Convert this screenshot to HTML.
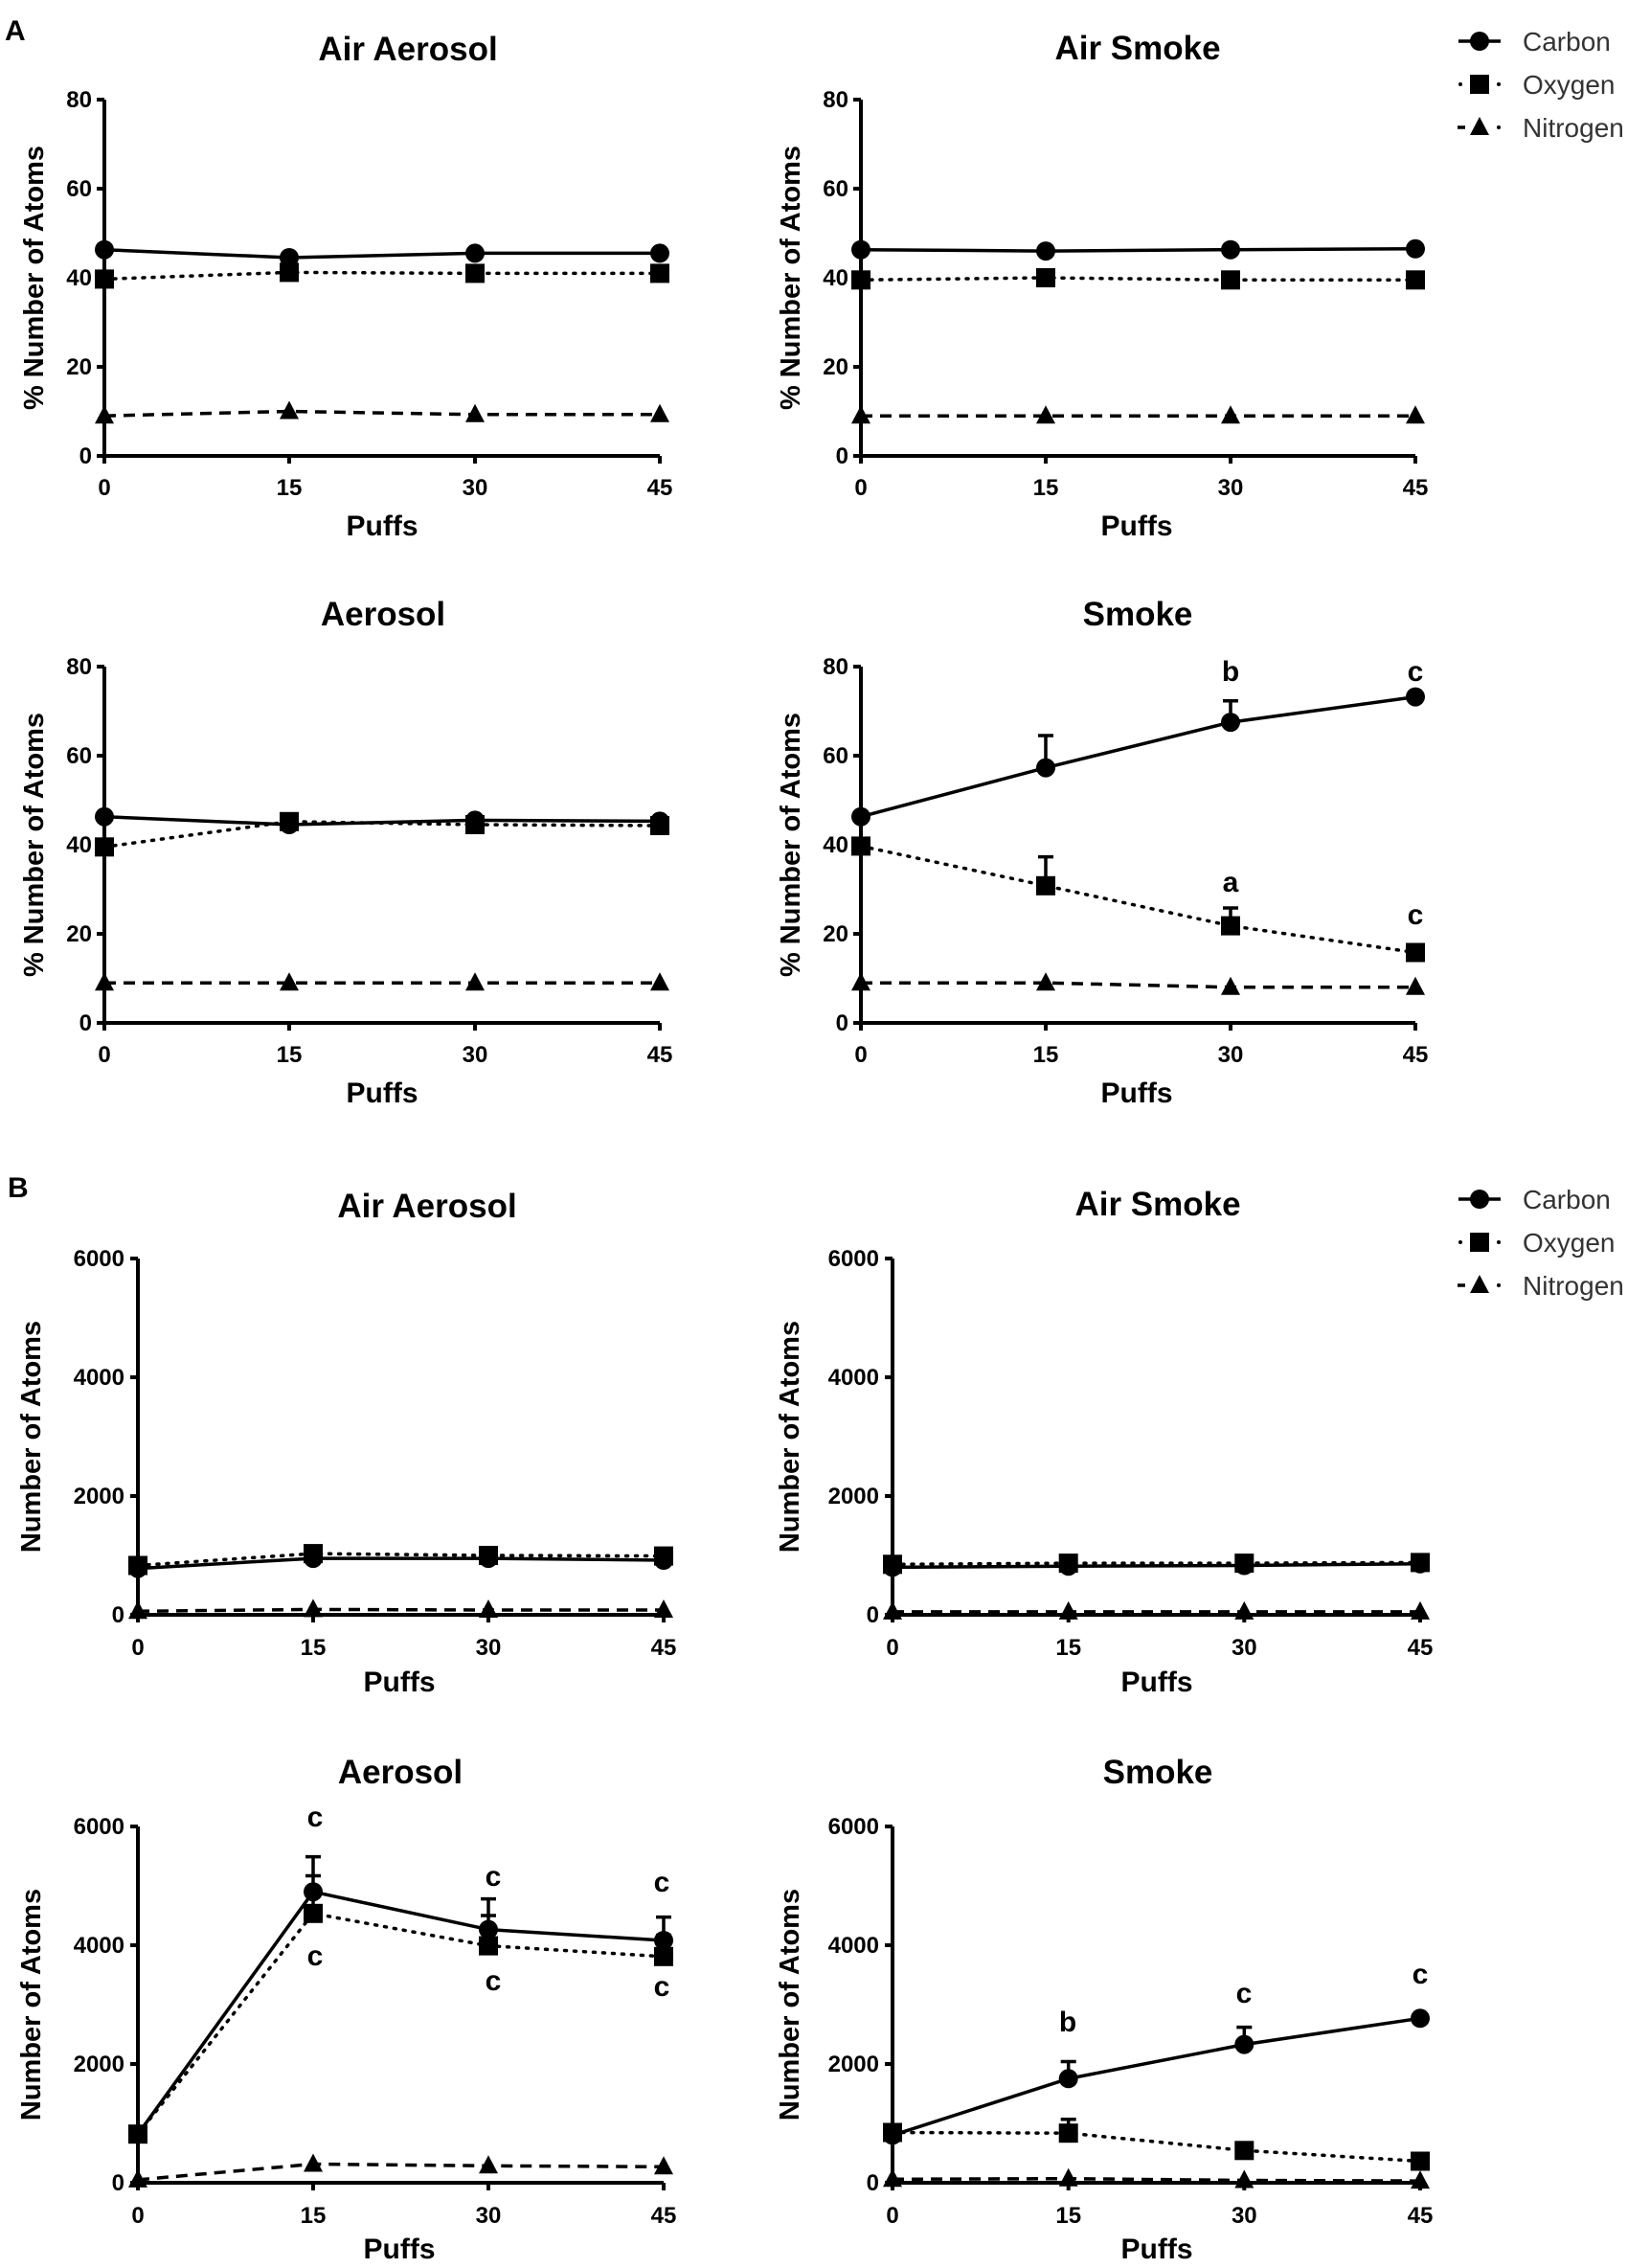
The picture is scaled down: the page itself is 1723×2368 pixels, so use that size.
<!DOCTYPE html>
<html><head><meta charset="utf-8"><style>html,body{margin:0;padding:0;background:#fff}svg{display:block}</style></head>
<body>
<svg width="1723" height="2368" viewBox="0 0 1723 2368" xmlns="http://www.w3.org/2000/svg" font-family="Liberation Sans, Arial, sans-serif">
<defs>
<circle id="c" r="10" fill="#000"/>
<rect id="s" x="-10" y="-10" width="20" height="20" fill="#000"/>
<polygon id="t" points="0,-11 10,8 -10,8" fill="#000"/>
</defs>
<style>
.ax{stroke:#000;stroke-width:4;fill:none}
.sl{stroke:#000;stroke-width:3.5;fill:none}
.dt{stroke:#000;stroke-width:3.5;fill:none;stroke-dasharray:2 8;stroke-linecap:round}
.ds{stroke:#000;stroke-width:3.5;fill:none;stroke-dasharray:12 8}
.eb{stroke:#000;stroke-width:3.5;fill:none}
.tl{font-size:24px;font-weight:bold}
.ti{font-size:35px;font-weight:bold}
.yl{font-size:29px;font-weight:bold}
.pf{font-size:30px;font-weight:bold}
.lt{font-size:30px;font-weight:bold}
.lg{font-size:28px;fill:#333}
</style>

<text x="5" y="42" font-size="30" font-weight="bold">A</text>
<text x="8" y="1250" font-size="30" font-weight="bold">B</text>

<!-- Legends -->
<g>
<line x1="1523" y1="43" x2="1567" y2="43" class="sl"/><use href="#c" x="1545" y="43"/>
<text x="1590" y="53" class="lg">Carbon</text>
<circle cx="1525" cy="88" r="2" fill="#000"/><circle cx="1565" cy="88" r="2" fill="#000"/><use href="#s" x="1545" y="88"/>
<text x="1590" y="98" class="lg">Oxygen</text>
<line x1="1522" y1="133" x2="1530" y2="133" class="sl"/><circle cx="1565" cy="133" r="2" fill="#000"/><use href="#t" x="1545" y="133"/>
<text x="1590" y="143" class="lg">Nitrogen</text>
</g>
<g transform="translate(0,1209)">
<line x1="1523" y1="43" x2="1567" y2="43" class="sl"/><use href="#c" x="1545" y="43"/>
<text x="1590" y="53" class="lg">Carbon</text>
<circle cx="1525" cy="88" r="2" fill="#000"/><circle cx="1565" cy="88" r="2" fill="#000"/><use href="#s" x="1545" y="88"/>
<text x="1590" y="98" class="lg">Oxygen</text>
<line x1="1522" y1="133" x2="1530" y2="133" class="sl"/><circle cx="1565" cy="133" r="2" fill="#000"/><use href="#t" x="1545" y="133"/>
<text x="1590" y="143" class="lg">Nitrogen</text>
</g>

<!-- ===== A row1 left: Air Aerosol ===== -->
<text x="426" y="63" class="ti" text-anchor="middle">Air  Aerosol</text>
<path class="ax" d="M109,104 V476 H689 M101,104 H109 M101,197 H109 M101,290 H109 M101,383 H109 M101,476 H109 M109,476 V484 M302,476 V484 M496,476 V484 M689,476 V484"/>
<g class="tl" text-anchor="end"><text x="96" y="112">80</text><text x="96" y="205">60</text><text x="96" y="298">40</text><text x="96" y="391">20</text><text x="96" y="484">0</text></g>
<g class="tl" text-anchor="middle"><text x="109" y="517">0</text><text x="302" y="517">15</text><text x="496" y="517">30</text><text x="689" y="517">45</text></g>
<text x="399" y="559" class="pf" text-anchor="middle">Puffs</text>
<text transform="translate(45,290) rotate(-90)" class="yl" text-anchor="middle">% Number of Atoms</text>
<path class="sl" d="M109,260.7 L302,269 L496,264.4 L689,264.4"/>
<path class="dt" d="M109,291.4 L302,284.4 L496,285.4 L689,285.4"/>
<path class="ds" d="M109,434.2 L302,429.5 L496,432.8 L689,432.8"/>
<use href="#c" x="109" y="260.7"/><use href="#c" x="302" y="269"/><use href="#c" x="496" y="264.4"/><use href="#c" x="689" y="264.4"/>
<use href="#s" x="109" y="291.4"/><use href="#s" x="302" y="284.4"/><use href="#s" x="496" y="285.4"/><use href="#s" x="689" y="285.4"/>
<use href="#t" x="109" y="434.2"/><use href="#t" x="302" y="429.5"/><use href="#t" x="496" y="432.8"/><use href="#t" x="689" y="432.8"/>

<!-- ===== A row1 right: Air Smoke ===== -->
<text x="1188" y="62" class="ti" text-anchor="middle">Air Smoke</text>
<path class="ax" d="M899,104 V476 H1478 M891,104 H899 M891,197 H899 M891,290 H899 M891,383 H899 M891,476 H899 M899,476 V484 M1092,476 V484 M1285,476 V484 M1478,476 V484"/>
<g class="tl" text-anchor="end"><text x="886" y="112">80</text><text x="886" y="205">60</text><text x="886" y="298">40</text><text x="886" y="391">20</text><text x="886" y="484">0</text></g>
<g class="tl" text-anchor="middle"><text x="899" y="517">0</text><text x="1092" y="517">15</text><text x="1285" y="517">30</text><text x="1478" y="517">45</text></g>
<text x="1187" y="559" class="pf" text-anchor="middle">Puffs</text>
<text transform="translate(835,290) rotate(-90)" class="yl" text-anchor="middle">% Number of Atoms</text>
<path class="sl" d="M899,260.7 L1092,262.1 L1285,260.7 L1478,259.8"/>
<path class="dt" d="M899,292.3 L1092,290 L1285,292.3 L1478,292.3"/>
<path class="ds" d="M899,434.2 L1478,434.2"/>
<use href="#c" x="899" y="260.7"/><use href="#c" x="1092" y="262.1"/><use href="#c" x="1285" y="260.7"/><use href="#c" x="1478" y="259.8"/>
<use href="#s" x="899" y="292.3"/><use href="#s" x="1092" y="290"/><use href="#s" x="1285" y="292.3"/><use href="#s" x="1478" y="292.3"/>
<use href="#t" x="899" y="434.2"/><use href="#t" x="1092" y="434.2"/><use href="#t" x="1285" y="434.2"/><use href="#t" x="1478" y="434.2"/>

<!-- ===== A row2 left: Aerosol ===== -->
<text x="400" y="653" class="ti" text-anchor="middle">Aerosol</text>
<path class="ax" d="M109,696 V1068 H689 M101,696 H109 M101,789 H109 M101,882 H109 M101,975 H109 M101,1068 H109 M109,1068 V1076 M302,1068 V1076 M496,1068 V1076 M689,1068 V1076"/>
<g class="tl" text-anchor="end"><text x="96" y="704">80</text><text x="96" y="797">60</text><text x="96" y="890">40</text><text x="96" y="983">20</text><text x="96" y="1076">0</text></g>
<g class="tl" text-anchor="middle"><text x="109" y="1109">0</text><text x="302" y="1109">15</text><text x="496" y="1109">30</text><text x="689" y="1109">45</text></g>
<text x="399" y="1151" class="pf" text-anchor="middle">Puffs</text>
<text transform="translate(45,882) rotate(-90)" class="yl" text-anchor="middle">% Number of Atoms</text>
<path class="sl" d="M109,852.7 L302,861 L496,856.4 L689,857.4"/>
<path class="dt" d="M109,884.3 L302,857.8 L496,861 L689,862"/>
<path class="ds" d="M109,1026.2 L689,1026.2"/>
<use href="#c" x="109" y="852.7"/><use href="#c" x="302" y="861"/><use href="#c" x="496" y="856.4"/><use href="#c" x="689" y="857.4"/>
<use href="#s" x="109" y="884.3"/><use href="#s" x="302" y="857.8"/><use href="#s" x="496" y="861"/><use href="#s" x="689" y="862"/>
<use href="#t" x="109" y="1026.2"/><use href="#t" x="302" y="1026.2"/><use href="#t" x="496" y="1026.2"/><use href="#t" x="689" y="1026.2"/>

<!-- ===== A row2 right: Smoke ===== -->
<text x="1188" y="653" class="ti" text-anchor="middle">Smoke</text>
<path class="ax" d="M899,696 V1068 H1478 M891,696 H899 M891,789 H899 M891,882 H899 M891,975 H899 M891,1068 H899 M899,1068 V1076 M1092,1068 V1076 M1285,1068 V1076 M1478,1068 V1076"/>
<g class="tl" text-anchor="end"><text x="886" y="704">80</text><text x="886" y="797">60</text><text x="886" y="890">40</text><text x="886" y="983">20</text><text x="886" y="1076">0</text></g>
<g class="tl" text-anchor="middle"><text x="899" y="1109">0</text><text x="1092" y="1109">15</text><text x="1285" y="1109">30</text><text x="1478" y="1109">45</text></g>
<text x="1187" y="1151" class="pf" text-anchor="middle">Puffs</text>
<text transform="translate(835,882) rotate(-90)" class="yl" text-anchor="middle">% Number of Atoms</text>
<path class="eb" d="M1092,801.6 V768 M1084,768 H1100 M1285,754.1 V731.8 M1277,731.8 H1293 M1092,924.8 V894.6 M1084,894.6 H1100 M1285,966.6 V948 M1277,948 H1293"/>
<path class="sl" d="M899,852.7 L1092,801.6 L1285,754.1 L1478,727.6"/>
<path class="dt" d="M899,883.4 L1092,924.8 L1285,966.6 L1478,994.5"/>
<path class="ds" d="M899,1026.2 L1092,1026.2 L1285,1030.8 L1478,1030.8"/>
<use href="#c" x="899" y="852.7"/><use href="#c" x="1092" y="801.6"/><use href="#c" x="1285" y="754.1"/><use href="#c" x="1478" y="727.6"/>
<use href="#s" x="899" y="883.4"/><use href="#s" x="1092" y="924.8"/><use href="#s" x="1285" y="966.6"/><use href="#s" x="1478" y="994.5"/>
<use href="#t" x="899" y="1026.2"/><use href="#t" x="1092" y="1026.2"/><use href="#t" x="1285" y="1030.8"/><use href="#t" x="1478" y="1030.8"/>
<g class="lt" text-anchor="middle"><text x="1285" y="711">b</text><text x="1478" y="711">c</text><text x="1285" y="931">a</text><text x="1478" y="965">c</text></g>

<!-- ===== B row1 left: Air Aerosol ===== -->
<text x="446" y="1271" class="ti" text-anchor="middle">Air Aerosol</text>
<path class="ax" d="M144,1314 V1686 H693 M136,1314 H144 M136,1438 H144 M136,1562 H144 M136,1686 H144 M144,1686 V1694 M327,1686 V1694 M510,1686 V1694 M693,1686 V1694"/>
<g class="tl" text-anchor="end"><text x="130" y="1322">6000</text><text x="130" y="1446">4000</text><text x="130" y="1570">2000</text><text x="130" y="1694">0</text></g>
<g class="tl" text-anchor="middle"><text x="144" y="1728">0</text><text x="327" y="1728">15</text><text x="510" y="1728">30</text><text x="693" y="1728">45</text></g>
<text x="417" y="1766" class="pf" text-anchor="middle">Puffs</text>
<text transform="translate(42,1500) rotate(-90)" class="yl" text-anchor="middle">Number of Atoms</text>
<path class="sl" d="M144,1637.6 L327,1627.1 L510,1627.1 L693,1629"/>
<path class="dt" d="M144,1634.5 L327,1622.1 L510,1624 L693,1624.6"/>
<path class="ds" d="M144,1682.3 L327,1680.4 L510,1681 L693,1681"/>
<use href="#c" x="144" y="1637.6"/><use href="#c" x="327" y="1627.1"/><use href="#c" x="510" y="1627.1"/><use href="#c" x="693" y="1629"/>
<use href="#s" x="144" y="1634.5"/><use href="#s" x="327" y="1622.1"/><use href="#s" x="510" y="1624"/><use href="#s" x="693" y="1624.6"/>
<use href="#t" x="144" y="1682.3"/><use href="#t" x="327" y="1680.4"/><use href="#t" x="510" y="1681"/><use href="#t" x="693" y="1681"/>

<!-- ===== B row1 right: Air Smoke ===== -->
<text x="1209" y="1269" class="ti" text-anchor="middle">Air Smoke</text>
<path class="ax" d="M932,1314 V1686 H1483 M924,1314 H932 M924,1438 H932 M924,1562 H932 M924,1686 H932 M932,1686 V1694 M1115.7,1686 V1694 M1299.3,1686 V1694 M1483,1686 V1694"/>
<g class="tl" text-anchor="end"><text x="918" y="1322">6000</text><text x="918" y="1446">4000</text><text x="918" y="1570">2000</text><text x="918" y="1694">0</text></g>
<g class="tl" text-anchor="middle"><text x="932" y="1728">0</text><text x="1115.7" y="1728">15</text><text x="1299.3" y="1728">30</text><text x="1483" y="1728">45</text></g>
<text x="1208" y="1766" class="pf" text-anchor="middle">Puffs</text>
<text transform="translate(834,1500) rotate(-90)" class="yl" text-anchor="middle">Number of Atoms</text>
<path class="sl" d="M932,1636.4 L1115.7,1635.2 L1299.3,1634.5 L1483,1632.7"/>
<path class="dt" d="M932,1633.3 L1115.7,1632.1 L1299.3,1632.1 L1483,1631.4"/>
<path class="ds" d="M932,1682.9 L1483,1682.9"/>
<use href="#c" x="932" y="1636.4"/><use href="#c" x="1115.7" y="1635.2"/><use href="#c" x="1299.3" y="1634.5"/><use href="#c" x="1483" y="1632.7"/>
<use href="#s" x="932" y="1633.3"/><use href="#s" x="1115.7" y="1632.1"/><use href="#s" x="1299.3" y="1632.1"/><use href="#s" x="1483" y="1631.4"/>
<use href="#t" x="932" y="1682.9"/><use href="#t" x="1115.7" y="1682.9"/><use href="#t" x="1299.3" y="1682.9"/><use href="#t" x="1483" y="1682.9"/>

<!-- ===== B row2 left: Aerosol ===== -->
<text x="418" y="1862" class="ti" text-anchor="middle">Aerosol</text>
<path class="ax" d="M144,1907 V2279 H693 M136,1907 H144 M136,2031 H144 M136,2155 H144 M136,2279 H144 M144,2279 V2287 M327,2279 V2287 M510,2279 V2287 M693,2279 V2287"/>
<g class="tl" text-anchor="end"><text x="130" y="1915">6000</text><text x="130" y="2039">4000</text><text x="130" y="2163">2000</text><text x="130" y="2287">0</text></g>
<g class="tl" text-anchor="middle"><text x="144" y="2321">0</text><text x="327" y="2321">15</text><text x="510" y="2321">30</text><text x="693" y="2321">45</text></g>
<text x="417" y="2358" class="pf" text-anchor="middle">Puffs</text>
<text transform="translate(42,2093) rotate(-90)" class="yl" text-anchor="middle">Number of Atoms</text>
<path class="eb" d="M327,1975.2 V1938.6 M319,1938.6 H335 M510,2014.6 V1982.6 M502,1982.6 H518 M693,2026 V2001.6 M685,2001.6 H701 M327,1997.8 V1958.5 M319,1958.5 H335 M510,2031.6 V2000 M502,2000 H518 M693,2042.8 V2020.5 M685,2020.5 H701"/>
<path class="sl" d="M144,2228.3 L327,1975.2 L510,2014.6 L693,2026"/>
<path class="dt" d="M144,2228.2 L327,1997.8 L510,2031.6 L693,2042.8"/>
<path class="ds" d="M144,2275.9 L327,2259.5 L510,2261.3 L693,2262.3"/>
<use href="#c" x="144" y="2228.3"/><use href="#c" x="327" y="1975.2"/><use href="#c" x="510" y="2014.6"/><use href="#c" x="693" y="2026"/>
<use href="#s" x="144" y="2228.2"/><use href="#s" x="327" y="1997.8"/><use href="#s" x="510" y="2031.6"/><use href="#s" x="693" y="2042.8"/>
<use href="#t" x="144" y="2275.9"/><use href="#t" x="327" y="2259.5"/><use href="#t" x="510" y="2261.3"/><use href="#t" x="693" y="2262.3"/>
<g class="lt" text-anchor="middle"><text x="329" y="1907">c</text><text x="329" y="2052">c</text><text x="515" y="1969">c</text><text x="515" y="2078">c</text><text x="691" y="1975">c</text><text x="691" y="2084">c</text></g>

<!-- ===== B row2 right: Smoke ===== -->
<text x="1209" y="1862" class="ti" text-anchor="middle">Smoke</text>
<path class="ax" d="M932,1907 V2279 H1483 M924,1907 H932 M924,2031 H932 M924,2155 H932 M924,2279 H932 M932,2279 V2287 M1115.7,2279 V2287 M1299.3,2279 V2287 M1483,2279 V2287"/>
<g class="tl" text-anchor="end"><text x="918" y="1915">6000</text><text x="918" y="2039">4000</text><text x="918" y="2163">2000</text><text x="918" y="2287">0</text></g>
<g class="tl" text-anchor="middle"><text x="932" y="2321">0</text><text x="1115.7" y="2321">15</text><text x="1299.3" y="2321">30</text><text x="1483" y="2321">45</text></g>
<text x="1208" y="2358" class="pf" text-anchor="middle">Puffs</text>
<text transform="translate(834,2093) rotate(-90)" class="yl" text-anchor="middle">Number of Atoms</text>
<path class="eb" d="M1115.7,2170.3 V2152.5 M1107.7,2152.5 H1123.7 M1299.3,2134.6 V2116.6 M1291.3,2116.6 H1307.3 M1115.7,2227.2 V2212.7 M1107.7,2212.7 H1123.7"/>
<path class="sl" d="M932,2229.4 L1115.7,2170.3 L1299.3,2134.6 L1483,2107.3"/>
<path class="dt" d="M932,2226.5 L1115.7,2227.2 L1299.3,2245.3 L1483,2256.5"/>
<path class="ds" d="M932,2275.3 L1115.7,2274.7 L1299.3,2276.5 L1483,2277.1"/>
<use href="#c" x="932" y="2229.4"/><use href="#c" x="1115.7" y="2170.3"/><use href="#c" x="1299.3" y="2134.6"/><use href="#c" x="1483" y="2107.3"/>
<use href="#s" x="932" y="2226.5"/><use href="#s" x="1115.7" y="2227.2"/><use href="#s" x="1299.3" y="2245.3"/><use href="#s" x="1483" y="2256.5"/>
<use href="#t" x="932" y="2275.3"/><use href="#t" x="1115.7" y="2274.7"/><use href="#t" x="1299.3" y="2276.5"/><use href="#t" x="1483" y="2277.1"/>
<g class="lt" text-anchor="middle"><text x="1115" y="2121">b</text><text x="1299" y="2091">c</text><text x="1483" y="2071">c</text></g>
</svg>
</body></html>
